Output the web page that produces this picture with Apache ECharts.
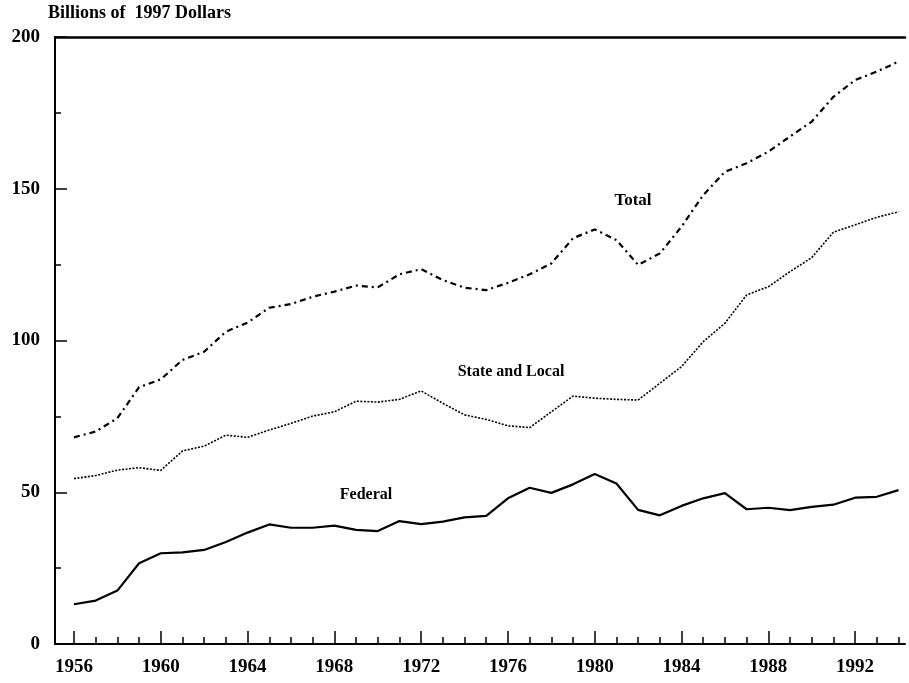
<!DOCTYPE html>
<html>
<head>
<meta charset="utf-8">
<script src="https://cdn.jsdelivr.net/npm/echarts@6/dist/echarts.min.js"></script>
<style>
  html, body { margin: 0; padding: 0; background: #fff; }
  #chart { width: 909px; height: 683px; }
</style>
</head>
<body>
<div id="chart"></div>
<script>
  // years on the x axis
  var years = [1956, 1957, 1958, 1959, 1960, 1961, 1962, 1963, 1964, 1965,
    1966, 1967, 1968, 1969, 1970, 1971, 1972, 1973, 1974, 1975,
    1976, 1977, 1978, 1979, 1980, 1981, 1982, 1983, 1984, 1985,
    1986, 1987, 1988, 1989, 1990, 1991, 1992, 1993, 1994]
  var yearLabels = [1956, 1960, 1964, 1968, 1972, 1976, 1980, 1984, 1988, 1992]

  // billions of 1997 dollars
  var federal = [13.1, 14.3, 17.6, 26.6, 29.9, 30.2, 31.0, 33.6, 36.7, 39.4,
    38.3, 38.3, 39.0, 37.6, 37.2, 40.5, 39.5, 40.3, 41.7, 42.2,
    48.0, 51.5, 49.8, 52.6, 56.0, 52.9, 44.2, 42.4, 45.5, 48.0,
    49.7, 44.4, 44.9, 44.1, 45.2, 45.9, 48.2, 48.5, 50.7]
  var stateLocal = [54.5, 55.5, 57.3, 58.1, 57.2, 63.6, 65.2, 68.8, 68.1, 70.5,
    72.7, 75.1, 76.5, 80.0, 79.7, 80.6, 83.4, 79.3, 75.5, 74.0,
    71.9, 71.3, 76.5, 81.7, 81.0, 80.6, 80.4, 85.9, 91.4, 99.6,
    105.7, 115.0, 117.7, 122.7, 127.3, 135.7, 138.1, 140.6, 142.4]
  var total = [68.1, 70.0, 74.4, 84.6, 87.2, 93.6, 96.3, 102.9, 105.9, 110.8,
    112.0, 114.4, 116.1, 118.1, 117.5, 121.8, 123.5, 119.9, 117.4, 116.6,
    119.0, 121.8, 125.4, 133.7, 136.6, 133.1, 124.9, 128.7, 137.5, 147.9,
    155.6, 158.4, 162.2, 167.2, 172.1, 180.3, 185.8, 188.6, 191.9]

  function pairs(vals) {
    return years.map(function (y, i) { return [y, vals[i]] })
  }

  var serif = "'Liberation Serif', 'Times New Roman', serif"
  var chart = echarts.init(document.getElementById('chart'))

  var option = {
    backgroundColor: '#fff',
    animation: false,
    grid: { left: 55, right: 4, top: 37, bottom: 39 },
    xAxis: [{
      type: 'value',
      min: 1955.125,
      max: 1994.3,
      splitLine: { show: false },
      axisLine: { lineStyle: { color: '#000', width: 2 } },
      axisTick: {
        inside: true, length: 13, customValues: yearLabels,
        lineStyle: { color: '#000', width: 1.5 }
      },
      axisLabel: {
        customValues: yearLabels, margin: 14,
        formatter: function (v) { return String(v) },
        color: '#000', fontFamily: serif, fontWeight: 'bold', fontSize: 19
      }
    }, {
      // minor ticks every year
      type: 'value',
      min: 1955.125,
      max: 1994.3,
      position: 'bottom',
      splitLine: { show: false },
      axisLine: { show: false },
      axisLabel: { show: false },
      axisTick: {
        inside: true, length: 7, customValues: years,
        lineStyle: { color: '#000', width: 1.5 }
      }
    }, {
      // top frame
      type: 'value',
      min: 1955.125,
      max: 1994.3,
      position: 'top',
      splitLine: { show: false },
      axisLine: { lineStyle: { color: '#000', width: 2.5 } },
      axisTick: { show: false },
      axisLabel: { show: false }
    }],
    yAxis: {
      type: 'value',
      min: 0,
      max: 200,
      interval: 50,
      splitLine: { show: false },
      axisLine: { show: true, lineStyle: { color: '#000', width: 2 } },
      axisTick: { show: true, inside: true, length: 12, lineStyle: { color: '#000', width: 1.5 } },
      minorTick: { show: true, splitNumber: 2, length: 6, lineStyle: { color: '#000', width: 1.5 } },
      axisLabel: {
        margin: 15, color: '#000', fontFamily: serif, fontWeight: 'bold', fontSize: 19
      }
    },
    graphic: [
      { type: 'text', x: 48, y: 13, style: { text: 'Billions of  1997 Dollars', fill: '#000', font: 'bold 18px ' + serif, verticalAlign: 'middle' } },
      { type: 'text', x: 633, y: 201, style: { text: 'Total', fill: '#000', font: 'bold 17px ' + serif, align: 'center', verticalAlign: 'middle' } },
      { type: 'text', x: 511, y: 372, style: { text: 'State and Local', fill: '#000', font: 'bold 16px ' + serif, align: 'center', verticalAlign: 'middle' } },
      { type: 'text', x: 366, y: 495, style: { text: 'Federal', fill: '#000', font: 'bold 16px ' + serif, align: 'center', verticalAlign: 'middle' } }
    ],
    series: [{
      name: 'Total',
      type: 'line',
      data: pairs(total),
      symbol: 'none',
      lineStyle: { color: '#000', width: 2.2, type: [6, 4, 2, 4] }
    }, {
      name: 'State and Local',
      type: 'line',
      data: pairs(stateLocal),
      symbol: 'none',
      lineStyle: { color: '#000', width: 1.6, type: [2, 1.5] }
    }, {
      name: 'Federal',
      type: 'line',
      data: pairs(federal),
      symbol: 'none',
      lineStyle: { color: '#000', width: 2.2 }
    }]
  }
  chart.setOption(option)
</script>
</body>
</html>
